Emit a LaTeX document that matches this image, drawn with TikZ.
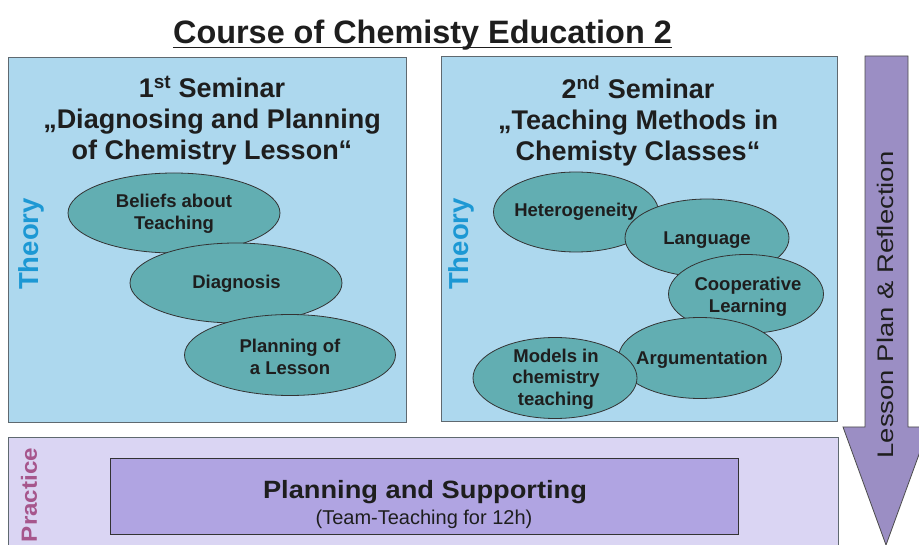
\documentclass[tikz,border=0pt]{standalone}
\usepackage{fontspec}
\setmainfont{Liberation Sans}
\usetikzlibrary{shapes.geometric}
\definecolor{boxblue}{RGB}{173,216,238}
\definecolor{boxedge}{RGB}{95,105,112}
\definecolor{elteal}{RGB}{98,174,178}
\definecolor{theoryblue}{RGB}{28,152,212}
\definecolor{praclight}{RGB}{218,213,243}
\definecolor{pracbox}{RGB}{176,164,226}
\definecolor{arrowpurple}{RGB}{155,142,196}
\definecolor{practext}{RGB}{166,86,140}
\definecolor{txtdark}{RGB}{30,30,30}
\tikzset{
  sembox/.style={draw=boxedge, line width=1.2pt, fill=boxblue, inner sep=0pt, anchor=north west},
  pracbg/.style={draw=boxedge, line width=1.2pt, fill=praclight, inner sep=0pt, anchor=north west},
  pracinner/.style={draw=black!80, line width=1pt, fill=pracbox, inner sep=0pt, anchor=north west},
  ell/.style={ellipse, draw=black!80, line width=0.8pt, fill=elteal, inner sep=0pt},
  elltext/.style={font=\fontsize{18.5}{21.5}\selectfont\bfseries, align=center, text=txtdark, inner sep=0pt},
  headtext/.style={font=\fontsize{27}{31}\selectfont\bfseries, align=center, text=txtdark, inner sep=0pt},
  theorytext/.style={font=\fontsize{27.5}{30}\selectfont\bfseries, text=theoryblue, inner sep=0pt, rotate=90},
}
\begin{document}
\begin{tikzpicture}[x=1pt, y=-1pt]
\useasboundingbox (0,0) rectangle (919,545);
\fill[white] (0,0) rectangle (919,545);
\clip (0,0) rectangle (919,545);

% title
\node[font=\fontsize{32.4}{38}\selectfont\bfseries, inner sep=0pt, anchor=base, text=txtdark] (title) at (422.5,44) {Course of Chemisty Education 2};
\draw[line width=1.8pt, txtdark] ([yshift=-3.5pt]title.base west) -- ([yshift=-3.5pt]title.base east);

% seminar boxes
\node[sembox, minimum width=398pt, minimum height=365pt] (sem1) at (8,57) {};
\node[sembox, minimum width=396pt, minimum height=365pt] (sem2) at (441,56) {};

% practice boxes
\node[pracbg, minimum width=830pt, minimum height=130pt] (prac) at (8,437) {};
\node[pracinner, minimum width=628pt, minimum height=76pt] (plan) at (110,458) {};

% arrow
\draw[draw=black!70, line width=0.8pt, fill=arrowpurple]
  (865,56) -- (908,56) -- (908,427) -- (929,427) -- (886,545) -- (843,427) -- (865,427) -- cycle;
\node[font=\fontsize{22.5}{26}\selectfont, text=txtdark, inner sep=0pt, rotate=90, xscale=1.22] (lpr) at (885,305) {Lesson Plan \& Reflection};

% headings
\node[headtext] (h1) at (212,121) {1\textsuperscript{st} Seminar\\„Diagnosing and Planning\\of Chemistry Lesson“};
\node[headtext] (h2) at (638,121) {2\textsuperscript{nd} Seminar\\„Teaching Methods in\\Chemisty Classes“};

% theory labels
\node[theorytext] (th1) at (31,244) {Theory};
\node[theorytext] (th2) at (461,244) {Theory};

% practice label
\node[font=\fontsize{22}{26}\selectfont\bfseries, text=practext, inner sep=0pt, rotate=90, xscale=1.1] (pr) at (29,495) {Practice};

% left ellipses
\node[ell, minimum width=212pt, minimum height=80pt] (e1) at (174,213) {};
\node[ell, minimum width=212pt, minimum height=80pt] (e2) at (236,283) {};
\node[ell, minimum width=211pt, minimum height=81pt] (e3) at (290,355) {};

% right ellipses
\node[ell, minimum width=165pt, minimum height=80pt] (e4) at (576,212) {};
\node[ell, minimum width=164pt, minimum height=78pt] (e5) at (707,238) {};
\node[ell, minimum width=155pt, minimum height=79pt] (e6) at (746,294) {};
\node[ell, minimum width=163pt, minimum height=81pt] (e7) at (700,358) {};
\node[ell, minimum width=164pt, minimum height=81pt] (e8) at (555,378) {};

% ellipse texts
\node[elltext] (t1) at (174,214) {Beliefs about\\Teaching};
\node[elltext] (t2) at (236.5,284) {Diagnosis};
\node[elltext] (t3) at (290,357) {Planning of\\a Lesson};
\node[elltext] (t4) at (576,212) {Heterogeneity};
\node[elltext] (t5) at (707,240) {Language};
\node[elltext] (t6) at (748,297) {Cooperative\\Learning};
\node[elltext] (t7) at (702,360) {Argumentation};
\node[elltext] (t8) at (556,379) {Models in\\chemistry\\teaching};

% practice texts
\node[font=\fontsize{25}{30}\selectfont\bfseries, text=txtdark, inner sep=0pt, anchor=base, xscale=1.09] (pt1) at (425,498) {Planning and Supporting};
\node[font=\fontsize{20}{24}\selectfont, text=txtdark, inner sep=0pt, anchor=base] (pt2) at (424,524) {(Team-Teaching for 12h)};
\end{tikzpicture}
\end{document}
